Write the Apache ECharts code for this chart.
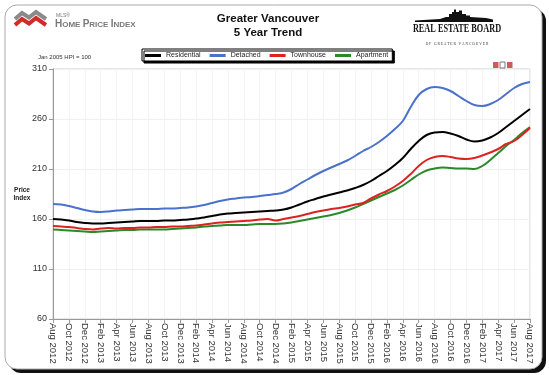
<!DOCTYPE html>
<html><head><meta charset="utf-8">
<script src="https://cdn.jsdelivr.net/npm/echarts@6/dist/echarts.min.js"></script>
<style>html,body{margin:0;padding:0;background:#fff}#c{width:549px;height:375px}</style>
</head><body><div id="c"></div>
<script>
const months = ["Aug 2012","Sep 2012","Oct 2012","Nov 2012","Dec 2012",
"Jan 2013","Feb 2013","Mar 2013","Apr 2013","May 2013","Jun 2013","Jul 2013","Aug 2013","Sep 2013","Oct 2013","Nov 2013","Dec 2013",
"Jan 2014","Feb 2014","Mar 2014","Apr 2014","May 2014","Jun 2014","Jul 2014","Aug 2014","Sep 2014","Oct 2014","Nov 2014","Dec 2014",
"Jan 2015","Feb 2015","Mar 2015","Apr 2015","May 2015","Jun 2015","Jul 2015","Aug 2015","Sep 2015","Oct 2015","Nov 2015","Dec 2015",
"Jan 2016","Feb 2016","Mar 2016","Apr 2016","May 2016","Jun 2016","Jul 2016","Aug 2016","Sep 2016","Oct 2016","Nov 2016","Dec 2016",
"Jan 2017","Feb 2017","Mar 2017","Apr 2017","May 2017","Jun 2017","Jul 2017","Aug 2017"];

const residential = [160,159.5,158.5,157,156,155.5,155.5,156,156.5,157,157.5,158,158,158,158.5,158.5,159,159.5,160.5,161.5,163,164.5,165.5,166,166.5,167,167.5,168,168.5,169.5,171.5,174.5,177.5,180,182.5,184.5,186.5,188.5,191,194,198,203,208,214,221,230,238,244,246.5,247,245.5,243,239.5,237.5,238.5,241.5,246,252,258,264,270];
const detached = [175,174.5,173,171,169,167.5,167,167.5,168.5,169,169.5,170,170,170,170.5,170.5,171,171.5,172.5,174,176,178,179.5,180.5,181.5,182,183,184,185,186.5,190,195,199.5,204,208,211.5,215,218.5,223,228,232,237,243,250,258,272,284,290,292,291,288,283,278,274,273,275,279,285,291,295,297];
const townhouse = [153,152.5,152,151,150,149.5,150.5,151,150.5,151,151,151.5,151.5,152,152,152.5,152.5,153,153.5,154.5,155.5,156.5,157,157.5,158,158.5,159.5,160,158.5,160,161.5,163,165,167,168.5,170,171,172.5,174.5,176,180.5,184.5,188,192.5,198,205,213,219,222,223,222,220.5,220,221,223.5,226.5,230,235,238,244,251];
const apartment = [149.5,149,148.5,148,147.5,147,147.5,148,148.5,149,149,149.5,149.5,149.5,149.5,150,150.5,151,151.5,152.5,153,153.5,154,154,154,154.5,155,155,155,155.5,156.5,158,159.5,161,162.5,164,166,168.5,171.5,175,178.5,182,185.5,189,193.5,199,204.5,208.5,210.5,211.5,211,210.5,210.5,210,213,219,226,233,239,246,252];

const seriesNames = ["Residential","Detached","Townhouse","Apartment"];
const seriesColors = ["#000000","#4a72cc","#dd2222","#2a8a2a"];
const seriesData = [residential, detached, townhouse, apartment];

const chart = echarts.init(document.getElementById('c'), null, {renderer:'canvas'});
const FF = 'Liberation Sans, Arial, sans-serif';
const option = {
  animation:false,
  backgroundColor:'#ffffff',
  graphic:[
    {type:'rect', z:-20, shape:{x:9,y:9,width:537,height:364,r:12}, style:{fill:'#111'}},
    {type:'rect', z:-19, shape:{x:5,y:5,width:537,height:364,r:12}, style:{fill:'#fff',stroke:'#aaa',lineWidth:1}},
    {type:'text', z:10, style:{x:268,y:19,text:'Greater Vancouver',align:'center',verticalAlign:'middle',fontSize:11.5,fontWeight:'bold',fontFamily:FF,fill:'#111'}},
    {type:'text', z:10, style:{x:268,y:33,text:'5 Year Trend',align:'center',verticalAlign:'middle',fontSize:11.5,fontWeight:'bold',fontFamily:FF,fill:'#111'}},
    {type:'text', z:10, style:{x:38,y:57,text:'Jan 2005 HPI = 100',align:'left',verticalAlign:'middle',fontSize:6,fontFamily:FF,fill:'#333'}},
    {type:'text', z:10, style:{x:22,y:190,text:'Price',align:'center',verticalAlign:'middle',fontSize:6.5,fontWeight:'bold',fontFamily:FF,fill:'#222'}},
    {type:'text', z:10, style:{x:22,y:198,text:'Index',align:'center',verticalAlign:'middle',fontSize:6.5,fontWeight:'bold',fontFamily:FF,fill:'#222'}},
    // left logo
    {type:'polyline', z:10, shape:{points:[[15,19],[22,13],[29,17.5],[36,12],[46,19]]}, style:{stroke:'#8a8a8a',lineWidth:4,fill:null,lineJoin:'miter'}},
    {type:'polyline', z:11, shape:{points:[[15,25],[22,19],[29,23.5],[36,18],[46,25]]}, style:{stroke:'#d02a2a',lineWidth:4,fill:null,lineJoin:'miter'}},
    {type:'text', z:10, style:{x:56,y:16,text:'MLS®',align:'left',verticalAlign:'middle',fontSize:5,fontFamily:FF,fill:'#777'}},
    {type:'text', z:10, style:{x:55,y:24.5,align:'left',verticalAlign:'middle',
      text:'{b|H}{s|OME }{b|P}{s|RICE }{b|I}{s|NDEX}',
      rich:{b:{fontSize:10,fontWeight:'bold',fontFamily:FF,fill:'#7a7a7a'},s:{fontSize:8,fontWeight:'bold',fontFamily:FF,fill:'#7a7a7a'}}}},
    // right logo
    {type:'polygon', z:10, shape:{points:[[415,22],[415,20.5],[440,19],[446,17],[449,17],[449,14],[452,14],[452,12],[454,12],[454,9.5],[456,9.5],[456,12],[459,12],[459,10.5],[462,10.5],[462,14],[466,14],[466,15.5],[470,15.5],[470,17],[478,17.5],[486,18],[493,19.5],[493,22]]}, style:{fill:'#111'}},
    {type:'text', z:10, scaleX:0.66, originX:457, originY:29, style:{x:457,y:29,text:'REAL ESTATE BOARD',align:'center',verticalAlign:'middle',fontSize:12.5,fontWeight:'bold',fontFamily:'Liberation Serif, Times New Roman, serif',fill:'#111'}},
    {type:'text', z:10, style:{x:457,y:44.5,text:'O F   G R E A T E R   V A N C O U V E R',align:'center',verticalAlign:'middle',fontSize:3.6,fontFamily:'Liberation Serif, serif',fill:'#333'}},
    // small icons
    {type:'rect', z:10, shape:{x:493,y:62,width:5.5,height:6}, style:{fill:'#d05a5a'}},
    {type:'rect', z:10, shape:{x:500,y:62,width:5,height:6}, style:{fill:'#fff',stroke:'#777',lineWidth:1}},
    {type:'rect', z:10, shape:{x:507,y:62,width:5.5,height:6}, style:{fill:'#d05a5a'}}
  ],
  legend:{
    data:seriesNames,
    left:142, top:49,
    icon:'rect', itemWidth:16, itemHeight:3, itemGap:9,
    padding:[3,4,2,3],
    backgroundColor:'#fff', borderColor:'#000', borderWidth:1,
    shadowColor:'#000', shadowOffsetX:2, shadowOffsetY:2, shadowBlur:0,
    textStyle:{fontSize:7,fontFamily:FF,color:'#222'},
    selectedMode:false
  },
  grid:{left:53,right:19,top:69,bottom:56,show:true,borderColor:'#cfcfcf',borderWidth:1},
  xAxis:{
    type:'category', data:months, boundaryGap:false,
    axisLine:{lineStyle:{color:'#999'}},
    axisTick:{show:true,interval:1,length:4,lineStyle:{color:'#999'}},
    axisLabel:{interval:1,rotate:-90,fontSize:9.5,fontFamily:FF,color:'#333',margin:4},
    splitLine:{show:true,interval:1,lineStyle:{color:'#f3f3f3'}}
  },
  yAxis:{
    type:'value', min:60, max:310, interval:50,
    axisLine:{show:true,lineStyle:{color:'#999'}},
    axisTick:{show:true,length:4,lineStyle:{color:'#999'}},
    axisLabel:{fontSize:9,fontFamily:FF,color:'#333',margin:6},
    splitLine:{show:true,lineStyle:{color:'#f0f0f0'}}
  },
  series: seriesNames.map((n,i)=>({
    name:n, type:'line', data:seriesData[i], smooth:0.4, showSymbol:false, symbol:'none',
    lineStyle:{color:seriesColors[i],width:2}, itemStyle:{color:seriesColors[i]}, z:2+ (3-i)
  }))
};
chart.setOption(option);
</script></body></html>
